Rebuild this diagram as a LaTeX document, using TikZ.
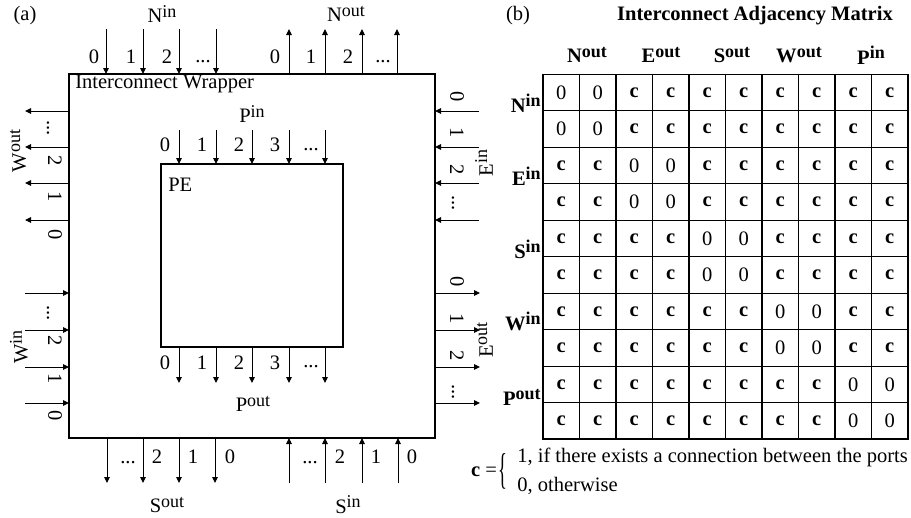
\documentclass[tikz,border=0pt]{standalone}
\usepackage{fontspec}
\setmainfont{Liberation Serif}
\usetikzlibrary{arrows.meta}
\newcommand\portname[2]{#1\raisebox{0.28em}{\fontsize{13.5}{14}\selectfont #2}}
\newcommand\ddd{...}
\begin{document}
\begin{tikzpicture}[x=0.75pt,y=-0.75pt,
  every node/.style={font=\fontsize{15.4}{18}\selectfont, inner sep=0pt},
  arr/.style={-{Triangle[length=4.5pt,width=4.2pt]}, line width=0.75pt},
  frame/.style={draw, line width=0.8pt, outer sep=0pt, anchor=north west},
  vdigit/.style={rotate=-90},
  vname/.style={rotate=90},
  cell/.style={draw, line width=0.8pt, minimum width=27.375pt, minimum height=27.34pt, anchor=north west, outer sep=0pt},
]
\useasboundingbox (0,0) rectangle (911,518);

% ---------------- panel (a)
\node (la) at (25,16) {(a)};
\node[frame, minimum width=274.5pt, minimum height=273pt] (wrap) at (69,74) {};
\node[frame, minimum width=136.5pt, minimum height=137.25pt] (pe) at (161,164) {};
\node[anchor=west] (wraplbl) at (75,84) {Interconnect Wrapper};
\node[anchor=west] (pelbl) at (168,185) {PE};

% north in
\node (ninname) at (162,14) {\portname{N}{in}};
\foreach \x/\lx/\ly/\t [count=\i] in {106/94/57/0,143/131/57/1,179/167/57/2,216/203/62/\ddd} {
  \coordinate (nin\i) at (\x,29);
  \draw[arr] (nin\i) -- (nin\i |- wrap.north);
  \node (ninl\i) at (\lx,\ly) {\t};
}
% north out
\node (noutname) at (346,14) {\portname{N}{out}};
\foreach \x/\lx/\ly/\t [count=\i] in {289/275/57/0,325/311/57/1,362/348/57/2,397/383/62/\ddd} {
  \coordinate (nout\i) at (\x,29);
  \draw[arr] (nout\i |- wrap.north) -- (nout\i);
  \node (noutl\i) at (\lx,\ly) {\t};
}
% PE in
\node (pinname) at (252,114) {\portname{P}{in}};
\foreach \x/\lx/\ly/\t [count=\i] in {179/165/145/0,216/202/145/1,252/239/145/2,289/275/145/3,325/311/150/\ddd} {
  \coordinate (pin\i) at (\x,130);
  \draw[arr] (pin\i) -- (pin\i |- pe.north);
  \node (pinl\i) at (\lx,\ly) {\t};
}
% PE out
\node (poutname) at (253,404) {\portname{P}{out}};
\foreach \x/\lx/\ly/\t [count=\i] in {179/165/363/0,216/202/363/1,252/239/363/2,289/275/363/3,325/311/367/\ddd} {
  \coordinate (pout\i) at (\x,383);
  \draw[arr] (pout\i |- pe.south) -- (pout\i);
  \node (poutl\i) at (\lx,\ly) {\t};
}
% west out
\node[vname] (woutname) at (18,151) {\portname{W}{out}};
\foreach \y/\lx/\ly/\t [count=\i] in {111/48/128/\ddd,147/55/161/2,183/55/197/1,220/55/235/0} {
  \coordinate (wout\i) at (25,\y);
  \draw[arr] (wout\i -| wrap.west) -- (wout\i);
  \node[vdigit] (woutl\i) at (\lx,\ly) {\t};
}
% west in
\node[vname] (winname) at (19,347) {\portname{W}{in}};
\foreach \y/\lx/\ly/\t [count=\i] in {293/48/313/\ddd,330/55/341/2,367/55/379/1,403/55/416/0} {
  \coordinate (win\i) at (25,\y);
  \draw[arr] (win\i) -- (win\i -| wrap.west);
  \node[vdigit] (winl\i) at (\lx,\ly) {\t};
}
% east in
\node[vname] (einname) at (484,163) {\portname{E}{in}};
\foreach \y/\lx/\ly/\t [count=\i] in {111/457/97/0,147/457/133/1,183/457/170/2,220/453/203/\ddd} {
  \coordinate (ein\i) at (479,\y);
  \draw[arr] (ein\i) -- (ein\i -| wrap.east);
  \node[vdigit] (einl\i) at (\lx,\ly) {\t};
}
% east out
\node[vname] (eoutname) at (485,340) {\portname{E}{out}};
\foreach \y/\lx/\ly/\t [count=\i] in {293/457/282/0,330/457/319/1,367/457/356/2,403/453/392/\ddd} {
  \coordinate (eout\i) at (480,\y);
  \draw[arr] (eout\i -| wrap.east) -- (eout\i);
  \node[vdigit] (eoutl\i) at (\lx,\ly) {\t};
}
% south out
\node (soutname) at (167,505) {\portname{S}{out}};
\foreach \x/\lx/\ly/\t [count=\i] in {107/128/463/\ddd,143/157/457/2,179/193/457/1,215/230/457/0} {
  \coordinate (sout\i) at (\x,483);
  \draw[arr] (sout\i |- wrap.south) -- (sout\i);
  \node (soutl\i) at (\lx,\ly) {\t};
}
% south in
\node (sinname) at (348,505) {\portname{S}{in}};
\foreach \x/\lx/\ly/\t [count=\i] in {289/310/463/\ddd,325/340/457/2,362/376/457/1,398/412/457/0} {
  \coordinate (sin\i) at (\x,483);
  \draw[arr] (sin\i) -- (sin\i |- wrap.south);
  \node (sinl\i) at (\lx,\ly) {\t};
}

% ---------------- panel (b)
\node (lb) at (518,16) {(b)};
\node (title) at (755,16) {\bfseries Interconnect Adjacency Matrix};
\foreach \x/\a/\b/\n in {587/N/out/hn,661/E/out/he,732/S/out/hs,799/W/out/hw,871/P/in/hp} {
  \node (\n) at (\x,55) {\bfseries\portname{\a}{\b}};
}
\foreach \y/\a/\b/\n in {112/N/in/rn,185/E/in/re,258/S/in/rs,330/W/in/rw,405/P/out/rp} {
  \node[anchor=base east] (\n) at (541,\y) {\bfseries\portname{\a}{\b}};
}
\foreach \r in {0,...,9} {
  \foreach \c in {0,...,9} {
    \pgfmathtruncatemacro\rp{\r/2}
    \pgfmathtruncatemacro\cp{\c/2}
    \node[cell] (m\r-\c) at ({543+36.5*\c},{74.5+36.45*\r})
      {\ifnum\rp=\cp\relax 0\else\textbf{c}\fi};
  }
}
\node (ceq) at (484,472) {\textbf{c} =};
\node (brace) at (503,471) {\scalebox{0.9}[2.1]{\{}};
\node[anchor=west] (leg1) at (517,457) {1, if there exists a connection between the ports};
\node[anchor=west] (leg2) at (517,486) {0, otherwise};
\end{tikzpicture}
\end{document}
